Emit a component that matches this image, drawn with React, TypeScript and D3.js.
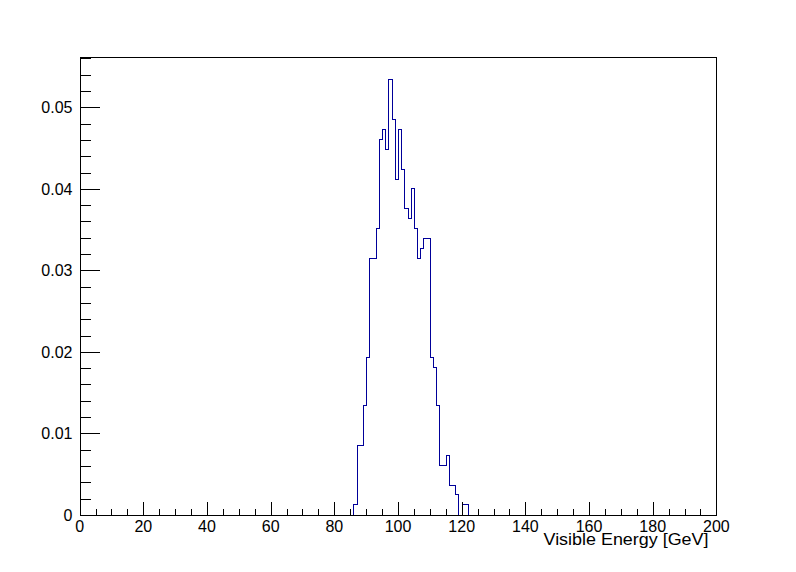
import React from "react";
import * as d3 from "d3";

// Histogram: 1 GeV bins, first non-empty bin starts at 86 GeV
const binStart = 86;
const binWidth = 1;
const binValues = [
  0.00129, 0.00855, 0.00855, 0.01342, 0.01942, 0.03155, 0.03155, 0.03522,
  0.04613, 0.04735, 0.0449, 0.05348, 0.04858, 0.04123, 0.04735, 0.04245,
  0.03771, 0.03645, 0.04013, 0.03522, 0.03155, 0.03277, 0.034, 0.034,
  0.01942, 0.01815, 0.01342, 0.0061, 0.0061, 0.00733, 0.00365, 0.00365,
  0.00251, 0, 0.00129, 0.00129,
];
const xMin = 0;
const xMax = 200;
const xMajorTicks = [0, 20, 40, 60, 80, 100, 120, 140, 160, 180, 200];
const xTickLabels = ["0", "20", "40", "60", "80", "100", "120", "140", "160", "180", "200"];
const yMajorTicks = [0, 0.01, 0.02, 0.03, 0.04, 0.05];
const yTickLabels = ["0", "0.01", "0.02", "0.03", "0.04", "0.05"];
const xTitle = "Visible Energy [GeV]";

const W = 796;
const H = 572;
const FL = 79.6, FR = 716.4, FT = 57.2, FB = 514.8;
const FONT = "'Liberation Sans', Arial, Helvetica, sans-serif";

export default function App() {
  const yMax = 1.05 * (d3.max(binValues) as number);
  const x = d3.scaleLinear().domain([xMin, xMax]).range([FL, FR]);
  const y = d3.scaleLinear().domain([0, yMax]).range([FB, FT]);

  // full outline (ROOT style), including empty bins along the baseline
  const pts: [number, number][] = [[x(xMin), y(0)]];
  for (let lo = xMin; lo < xMax; lo += binWidth) {
    const idx = Math.round((lo - binStart) / binWidth);
    const v = idx >= 0 && idx < binValues.length ? binValues[idx] : 0;
    pts.push([x(lo), y(v)]);
    pts.push([x(lo + binWidth), y(v)]);
  }
  pts.push([x(xMax), y(0)]);
  const snap = (p: [number, number]): [number, number] => [Math.round(p[0]) + 0.5, Math.round(p[1]) + 0.5];
  const path = d3.line()(pts.map(snap)) as string;

  const xMinor = d3.range(xMin, xMax + 0.001, 5).filter((t) => t % 20 !== 0);
  const yMinor = d3.range(0, yMax + 1e-9, 0.002).filter((t) => Math.abs(t / 0.01 - Math.round(t / 0.01)) > 1e-6);

  const px = (v: number) => Math.round(v) + 0.5;

  return (
    <svg width={W} height={H} style={{ position: "absolute", left: 0, top: 0, background: "#fff" }} fontFamily={FONT}>
      <rect x={0} y={0} width={W} height={H} fill="#fff" />
      <path d={path} fill="none" stroke="#000099" strokeWidth={1} shapeRendering="crispEdges" />
      <rect x={px(FL)} y={px(FT)} width={Math.round(FR) - Math.round(FL)} height={Math.round(FB) - Math.round(FT)} fill="none" stroke="#000" strokeWidth={1} shapeRendering="crispEdges" />
      <g stroke="#000" strokeWidth={1} shapeRendering="crispEdges">
        {xMajorTicks.map((t) => (
          <line key={"xM" + t} x1={px(x(t))} x2={px(x(t))} y1={px(FB)} y2={px(FB) - 14} />
        ))}
        {xMinor.map((t) => (
          <line key={"xm" + t} x1={px(x(t))} x2={px(x(t))} y1={px(FB)} y2={px(FB) - 7} />
        ))}
        {yMajorTicks.map((t) => (
          <line key={"yM" + t} x1={px(FL)} x2={px(FL) + 19} y1={px(y(t))} y2={px(y(t))} />
        ))}
        {yMinor.map((t) => (
          <line key={"ym" + t} x1={px(FL)} x2={px(FL) + 10} y1={px(y(t))} y2={px(y(t))} />
        ))}
      </g>
      <g fontSize={16} fill="#000">
        {xMajorTicks.map((t, i) => (
          <text key={"xl" + t} x={x(t)} y={532} textAnchor="middle">{xTickLabels[i]}</text>
        ))}
        {yMajorTicks.map((t, i) => (
          <text key={"yl" + t} x={72.5} y={y(t) + 5.8} textAnchor="end">{yTickLabels[i]}</text>
        ))}
        <text x={543.5} y={545} textLength={165} lengthAdjust="spacingAndGlyphs" fontSize={16.5}>{xTitle}</text>
      </g>
    </svg>
  );
}
